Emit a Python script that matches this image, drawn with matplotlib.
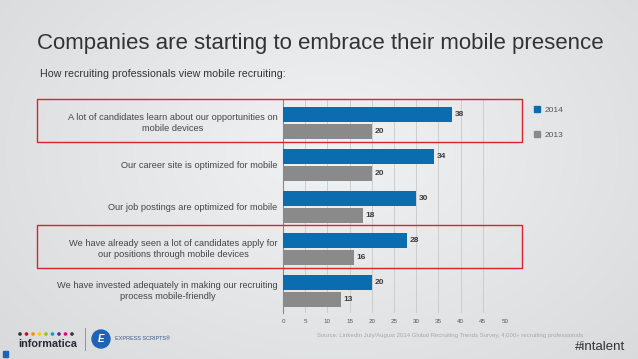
import numpy as np
import matplotlib
matplotlib.use('Agg')
import matplotlib.pyplot as plt
from matplotlib.patches import Rectangle, Ellipse
from matplotlib.lines import Line2D
import matplotlib.transforms as mtransforms

plt.rcParams['font.family'] = ['Liberation Sans', 'DejaVu Sans']

# data
categories = ['A lot of candidates learn about our opportunities on\nmobile devices',
              'Our career site is optimized for mobile',
              'Our job postings are optimized for mobile',
              'We have already seen a lot of candidates apply for\nour positions through mobile devices',
              'We have invested adequately in making our recruiting\nprocess mobile-friendly']
vals_2014 = [38, 34, 30, 28, 20]
vals_2013 = [20, 20, 18, 16, 13]
series_labels = ['2014', '2013']
highlighted = [0, 3]
xticks = list(range(0, 55, 5))

blue = '#0b6db0'
grey = '#8a8a8a'
txt = '#3c3c3c'

fig = plt.figure(figsize=(6.38, 3.59), dpi=100)

# background gradient
bg = fig.add_axes([0, 0, 1, 1], zorder=-10)
yy, xx = np.mgrid[0:359, 0:638]
r = np.sqrt(((xx - 330) / 420.0) ** 2 + ((yy - 150) / 300.0) ** 2)
shade = 0.945 - 0.09 * np.clip(r, 0, 1.3)
bg.imshow(np.dstack([shade, shade + 0.003, shade + 0.008]).clip(0, 1), aspect='auto')
bg.axis('off')

ax = fig.add_axes([283 / 638, 46 / 359, 222 / 638, 213 / 359])
ax.patch.set_alpha(0)
y = np.arange(len(categories))
h = 0.36
ax.barh(y - 0.2, vals_2014, height=h, color=blue, zorder=3)
ax.barh(y + 0.2, vals_2013, height=h, color=grey, zorder=3)
for yi, v in zip(y - 0.2, vals_2014):
    ax.text(v + 0.6, yi, str(v), va='center', ha='left', fontsize=6, fontweight='bold', color=txt)
for yi, v in zip(y + 0.2, vals_2013):
    ax.text(v + 0.6, yi, str(v), va='center', ha='left', fontsize=6, fontweight='bold', color=txt)

ax.set_xlim(0, 50)
ax.set_ylim(4.52, -0.55)
ax.set_xticks(xticks)
ax.tick_params(axis='x', length=0, labelsize=4.5, labelcolor='#555555', pad=4)
ax.set_yticks([])
ax.grid(axis='x', color='#c8c8c8', linewidth=0.6, zorder=0)
for s in ['top', 'right', 'bottom']:
    ax.spines[s].set_visible(False)
ax.spines['left'].set_color('#8a8a8a')
ax.spines['left'].set_linewidth(0.8)

for yi, c in zip(y, categories):
    ax.text(-1.2, yi, c, ha='right', va='center', multialignment='center',
            fontsize=6.7, color='#454545', linespacing=1.35)

# highlight boxes
trans = mtransforms.blended_transform_factory(fig.transFigure, ax.transData)
for i in highlighted:
    fig.add_artist(Rectangle((37 / 638, i - 0.57), 485 / 638, 1.03, transform=trans,
                             fill=False, edgecolor='#d9232e', linewidth=1.0, clip_on=False))

handles = [Line2D([], [], marker='s', linestyle='none', markersize=4.5, color=blue),
           Line2D([], [], marker='s', linestyle='none', markersize=4.5, color=grey)]
fig.legend(handles, series_labels, loc='upper left', bbox_to_anchor=(526 / 638, 1 - 99 / 359),
           frameon=False, fontsize=6, handlelength=0.8, labelspacing=2.0,
           handletextpad=0.5, labelcolor='#555555')

fig.text(37 / 638, 1 - 43 / 359, 'Companies are starting to embrace their mobile presence',
         fontsize=16, color='#333333', va='center', ha='left')
fig.text(40 / 638, 1 - 74 / 359, 'How recruiting professionals view mobile recruiting:',
         fontsize=7.7, color='#333333', va='center', ha='left')
fig.text(450 / 638, 1 - 336 / 359,
         'Source: LinkedIn July/August 2014 Global Recruiting Trends Survey, 4,000+ recruiting professionals',
         fontsize=4.3, color='#a8a8a8', ha='center', va='center')
fig.text(625 / 638, 1 - 347 / 359, '#intalent', fontsize=9.5, color='#333333', ha='right', va='center')

# logos
fig.text(18 / 638, 1 - 344 / 359, 'informatica', fontsize=7.8, fontweight='bold', color='#2b2b35',
         ha='left', va='center')
dot_colors = ['#333333', '#e2001a', '#f39200', '#ffcc00', '#95c11f', '#009fe3', '#662483', '#e5007d', '#333333']
for k, dc in enumerate(dot_colors):
    fig.add_artist(Ellipse(((20 + k * 6.5) / 638, 1 - 334 / 359), 2.2 / 638, 2.2 / 359,
                           transform=fig.transFigure, color=dc))
fig.add_artist(Line2D([85 / 638, 85 / 638], [1 - 328 / 359, 1 - 350 / 359],
                      transform=fig.transFigure, color='#888888', linewidth=0.6))
fig.add_artist(Ellipse((101 / 638, 1 - 339 / 359), 18 / 638, 18 / 359, transform=fig.transFigure,
                       color='#1e63b5'))
fig.text(101 / 638, 1 - 339 / 359, 'E', fontsize=7, fontweight='bold', color='white', style='italic',
         ha='center', va='center')
fig.text(115 / 638, 1 - 338 / 359, 'EXPRESS SCRIPTS\u00ae', fontsize=4, color='#3a5a8a',
         ha='left', va='center')
fig.add_artist(Rectangle((3 / 638, 1 - 357 / 359), 5 / 638, 6 / 359, transform=fig.transFigure,
                         color='#1e63b5'))

fig.savefig('out.png', dpi=100)
